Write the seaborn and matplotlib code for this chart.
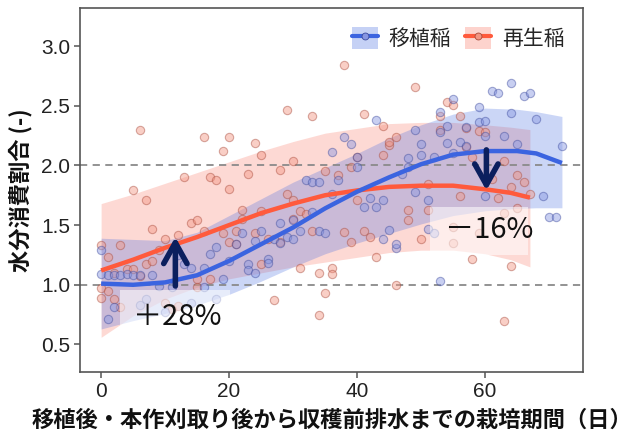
import numpy as np
import pandas as pd
import matplotlib
matplotlib.use("Agg")
import matplotlib.pyplot as plt
import seaborn as sns
from matplotlib.patches import Patch, Rectangle
from matplotlib.lines import Line2D

# ---- data -------------------------------------------------------------
series_names = ["移植稲", "再生稲"]

# observed water-consumption ratio, transplanted rice
blue_x = [0, 0, 1, 1, 2, 2, 3, 4, 5, 6, 6, 7, 8, 9, 10, 11, 12, 13, 14, 14,
          16, 16, 17, 18, 18, 19, 20, 21, 22, 23, 23, 24, 24, 25, 26, 26, 27,
          28, 28, 29, 30, 30, 31, 32, 33, 33, 34, 34, 35, 36, 36, 37, 38, 39,
          40, 40, 41, 42, 43, 43, 44, 44, 45, 46, 46, 47, 48, 48, 49, 49, 50,
          50, 51, 51, 52, 52, 53, 53, 53, 54, 54, 55, 55, 56, 57, 57, 59, 59,
          60, 60, 60, 61, 62, 63, 64, 64, 65, 66, 67, 68, 69, 70, 71, 72]
blue_y = [1.29, 1.09, 0.71, 1.08, 1.08, 0.81, 1.08, 1.09, 1.08, 1.08, 0.83,
          0.88, 1.08, 0.99, 0.77, 0.98, 1.25, 1.17, 1.14, 0.85, 1.14, 0.98,
          1.26, 1.32, 0.88, 1.05, 1.20, 1.34, 1.43, 1.17, 1.12, 1.37, 1.10,
          1.45, 1.22, 1.18, 1.38, 1.52, 1.35, 1.40, 1.54, 1.38, 1.45, 1.88,
          1.86, 1.61, 1.86, 1.45, 1.43, 1.76, 2.11, 1.88, 2.24, 2.18, 1.99,
          2.07, 1.65, 1.73, 2.38, 1.65, 1.71, 1.38, 1.46, 1.31, 1.34, 1.93,
          2.06, 1.99, 2.30, 1.78, 2.09, 2.18, 1.71, 1.47, 1.43, 2.07, 1.03,
          2.45, 2.28, 2.33, 2.19, 2.56, 2.10, 2.20, 2.16, 2.32, 2.49, 2.36,
          2.37, 1.74, 2.25, 2.62, 2.61, 2.25, 2.69, 2.44, 2.18, 2.58, 2.61,
          2.39, 1.74, 1.57, 1.57, 2.16]

# observed water-consumption ratio, ratoon rice
red_x = [0, 0, 0, 1, 1, 2, 2, 3, 3, 4, 5, 5, 6, 6, 7, 7, 8, 8, 9, 10, 10, 11,
         12, 12, 13, 14, 15, 15, 15, 16, 16, 17, 17, 18, 19, 19, 20, 20, 20,
         21, 21, 22, 22, 23, 24, 24, 25, 25, 25, 26, 27, 28, 28, 29, 29, 30,
         30, 30, 31, 31, 32, 33, 33, 34, 34, 35, 35, 36, 36, 37, 38, 38, 39,
         39, 40, 40, 41, 41, 42, 43, 44, 44, 45, 45, 46, 46, 48, 48, 49, 50,
         51, 51, 53, 53, 54, 55, 55, 55, 56, 56, 57, 57, 58, 58, 59, 59, 60,
         61, 62, 63, 63, 63, 64, 64, 65, 65, 66, 67]
red_y = [1.33, 0.89, 0.97, 1.23, 0.95, 0.88, 1.10, 1.33, 0.81, 1.13, 1.79,
         1.13, 2.30, 1.07, 1.71, 1.17, 1.47, 1.20, 1.29, 1.38, 0.85, 0.80,
         0.82, 1.42, 1.90, 1.52, 1.54, 1.05, 0.98, 2.24, 1.45, 1.90, 1.05,
         1.88, 2.12, 1.43, 2.24, 1.80, 1.36, 1.45, 1.34, 1.63, 1.55, 1.93,
         2.19, 1.43, 2.09, 1.17, 1.62, 1.38, 0.87, 1.96, 1.36, 2.46, 1.76,
         2.04, 1.55, 1.71, 1.14, 1.62, 1.59, 2.41, 1.45, 0.75, 1.10, 0.93,
         1.95, 1.14, 1.09, 1.92, 2.84, 1.44, 1.99, 1.36, 2.07, 1.71, 2.43,
         1.45, 1.40, 1.23, 2.33, 2.09, 2.17, 2.20, 1.00, 2.24, 1.54, 1.63,
         2.66, 1.38, 1.63, 1.84, 2.30, 2.41, 2.53, 2.51, 1.35, 1.48, 2.41,
         1.74, 2.31, 2.15, 2.07, 1.22, 2.29, 1.43, 2.28, 1.89, 1.73, 0.70,
         1.60, 2.04, 1.16, 1.82, 1.92, 1.64, 1.86, 1.76]

# fitted trend with its band, transplanted rice
blue_fit_x = [0, 5, 10, 15, 20, 25, 30, 35, 40, 45, 50, 55, 60, 65, 68, 72]
blue_fit = [1.01, 1.00, 1.02, 1.08, 1.20, 1.34, 1.48, 1.64, 1.78, 1.90, 2.01,
            2.09, 2.12, 2.12, 2.10, 2.02]
blue_hi = [1.39, 1.38, 1.37, 1.44, 1.58, 1.72, 1.86, 1.98, 2.10, 2.23, 2.34,
           2.43, 2.48, 2.47, 2.45, 2.41]
blue_lo = [0.63, 0.70, 0.76, 0.83, 0.92, 1.03, 1.15, 1.26, 1.35, 1.43, 1.51,
           1.58, 1.62, 1.64, 1.645, 1.645]

# fitted trend with its band, ratoon rice
red_fit_x = [0, 5, 10, 15, 20, 25, 30, 35, 40, 45, 50, 55, 60, 64, 67]
red_fit = [1.12, 1.21, 1.31, 1.40, 1.50, 1.60, 1.68, 1.75, 1.79, 1.82, 1.83,
           1.83, 1.80, 1.77, 1.73]
red_hi = [1.68, 1.76, 1.85, 1.94, 2.03, 2.12, 2.20, 2.27, 2.31, 2.35, 2.36,
          2.36, 2.34, 2.32, 2.30]
red_lo = [0.56, 0.74, 0.88, 0.98, 1.05, 1.10, 1.15, 1.19, 1.23, 1.27, 1.29,
          1.29, 1.26, 1.21, 1.15]

ref_levels = [1.0, 2.0]
x_ticks = [0, 20, 40, 60]
y_ticks = [0.5, 1.0, 1.5, 2.0, 2.5, 3.0]
change_labels = ["＋28%", "－16%"]

x_label = "移植後・本作刈取り後から収穫前排水までの栽培期間（日）"
y_label = "水分消費割合 (-)"

# ---- styling ----------------------------------------------------------
BLUE_LINE = "#3b64e0"
RED_LINE = "#ff5a3c"
BLUE_BAND = "#4169e1"
RED_BAND = "#fa6e5a"
BLUE_PT_FACE = "#8796e2"
BLUE_PT_EDGE = "#3c4a9c"
RED_PT_FACE = "#f29582"
RED_PT_EDGE = "#a8493a"
NAVY = "#0b1f5e"

sns.set_theme(style="white")
plt.rcParams["font.family"] = ["Noto Sans CJK JP", "DejaVu Sans"]

blue_pts = pd.DataFrame({"day": blue_x, "ratio": blue_y})
red_pts = pd.DataFrame({"day": red_x, "ratio": red_y})

fig = plt.figure(figsize=(6.4, 4.33), dpi=100)
ax = fig.add_axes([0.125, 0.141, 0.786, 0.841])

# uncertainty bands
ax.fill_between(red_fit_x, red_lo, red_hi, color=RED_BAND, alpha=0.26,
                lw=0, zorder=1)
ax.fill_between(blue_fit_x, blue_lo, blue_hi, color=BLUE_BAND, alpha=0.27,
                lw=0, zorder=1.1)

# reference levels
for yv in ref_levels:
    ax.axhline(yv, color="#8a8a8a", ls=(0, (4, 3)), lw=1.3, zorder=1.5)

# observations
sns.scatterplot(data=red_pts, x="day", y="ratio", ax=ax, s=36,
                color=RED_PT_FACE, edgecolor=RED_PT_EDGE, linewidth=0.8,
                alpha=0.45, zorder=2, legend=False)
sns.scatterplot(data=blue_pts, x="day", y="ratio", ax=ax, s=36,
                color=BLUE_PT_FACE, edgecolor=BLUE_PT_EDGE, linewidth=0.8,
                alpha=0.45, zorder=2.1, legend=False)

# translucent label panels
ax.add_patch(Rectangle((3.0, 0.63), 17.2, 0.33, facecolor="white",
                       alpha=0.55, lw=0, zorder=3))
ax.add_patch(Rectangle((51.4, 1.25), 15.3, 0.40, facecolor="white",
                       alpha=0.55, lw=0, zorder=3))

# trend lines
sns.lineplot(x=red_fit_x, y=red_fit, ax=ax, color=RED_LINE, lw=3.2,
             zorder=4, legend=False)
sns.lineplot(x=blue_fit_x, y=blue_fit, ax=ax, color=BLUE_LINE, lw=3.2,
             zorder=4.1, legend=False)
for ln in ax.get_lines()[-2:]:
    ln.set_solid_capstyle("butt")

# change arrows
arrow_style = dict(arrowstyle="->,head_length=0.75,head_width=0.42",
                   lw=4, color=NAVY, shrinkA=0, shrinkB=0, mutation_scale=20)
ax.annotate("", xy=(11.6, 1.40), xytext=(11.6, 0.99),
            arrowprops=arrow_style, zorder=6)
ax.annotate("", xy=(60.2, 1.79), xytext=(60.2, 2.13),
            arrowprops=arrow_style, zorder=6)

ax.text(11.95, 0.73, change_labels[0], fontsize=21, ha="center",
        va="center", color="#111111", zorder=6)
ax.text(60.6, 1.46, change_labels[1], fontsize=21, ha="center",
        va="center", color="#111111", zorder=6)

# axes
ax.set_xlim(-3.3, 75.3)
ax.set_ylim(0.27, 3.32)
ax.set_xticks(x_ticks)
ax.set_yticks(y_ticks)
ax.set_xticklabels([str(v) for v in x_ticks])
ax.set_yticklabels([f"{v:.1f}" for v in y_ticks])
ax.tick_params(axis="both", which="major", direction="out", length=4,
               width=1.1, color="#555555", labelsize=15,
               labelcolor="#222222", labelfontfamily="Liberation Sans",
               left=True, bottom=True, pad=3)
for sp in ax.spines.values():
    sp.set_color("#555555")
    sp.set_linewidth(1.2)

ax.set_xlabel(x_label, fontsize=16, fontweight="bold", color="#111111",
              labelpad=6)
ax.set_ylabel(y_label, fontsize=16, fontweight="bold", color="#111111",
              labelpad=6)

# legend: band swatch with line and marker on top
handles = [
    (Patch(facecolor=BLUE_BAND, alpha=0.3, edgecolor="none"),
     Line2D([0], [0], color=BLUE_LINE, lw=3, marker="o", ms=5,
            mfc=BLUE_PT_FACE, mec=BLUE_PT_EDGE, mew=0.6)),
    (Patch(facecolor=RED_BAND, alpha=0.3, edgecolor="none"),
     Line2D([0], [0], color=RED_LINE, lw=3, marker="o", ms=5,
            mfc=RED_PT_FACE, mec=RED_PT_EDGE, mew=0.6)),
]
ax.legend(handles, series_names, loc="upper right", ncol=2, frameon=False,
          fontsize=15, handlelength=1.25, handleheight=1.3,
          handletextpad=0.5, columnspacing=0.7, borderaxespad=0.5)

fig.savefig("out.png", dpi=100)
